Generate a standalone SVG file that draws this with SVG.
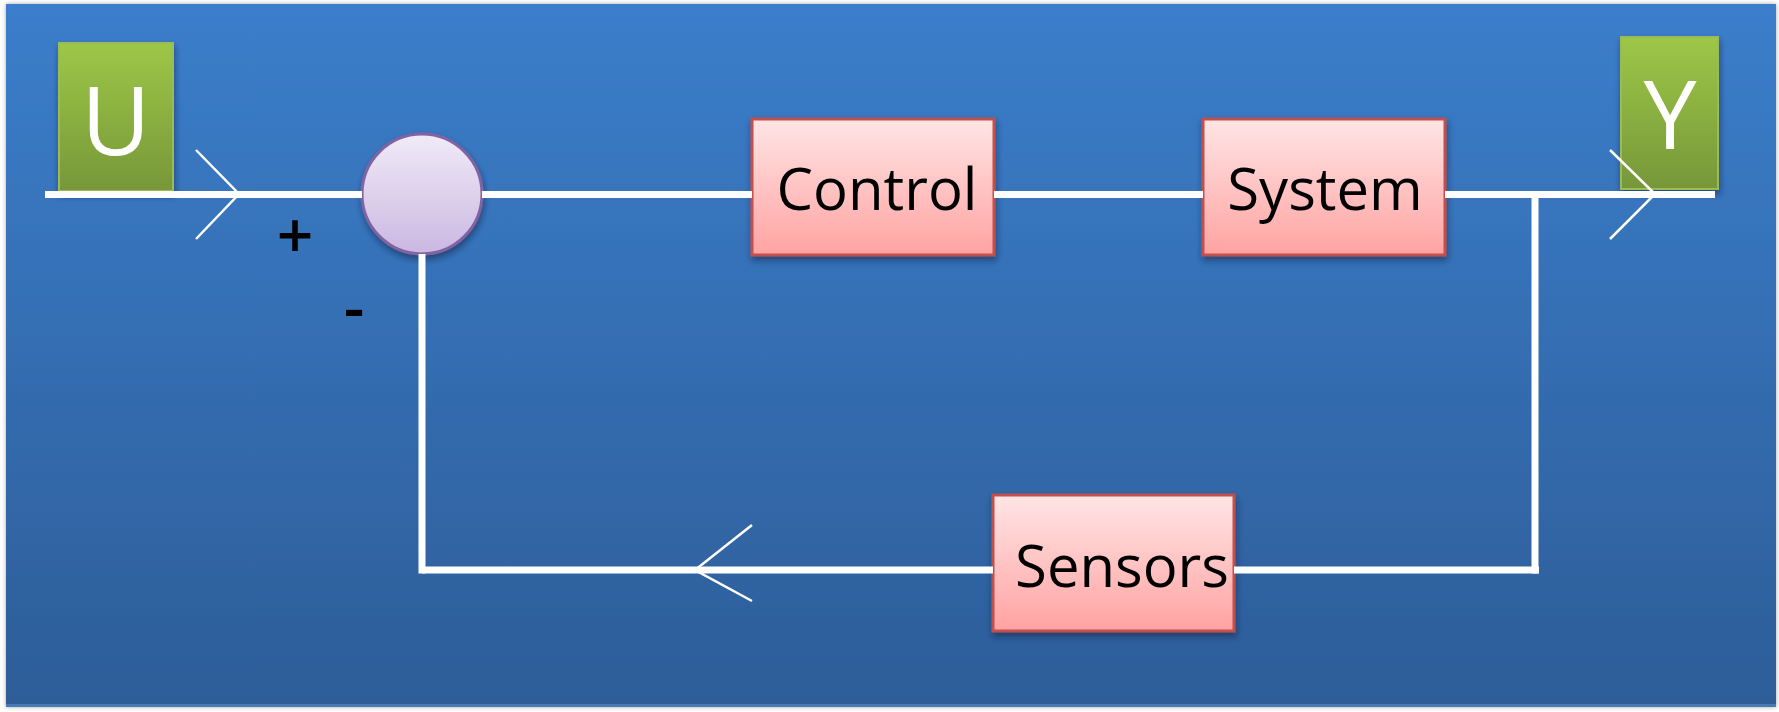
<svg xmlns="http://www.w3.org/2000/svg" width="1779" height="712" viewBox="0 0 1779 712">
  <defs>
    <linearGradient id="bg" x1="0" y1="0" x2="0" y2="1">
      <stop offset="0" stop-color="#3b7ecb"/>
      <stop offset="1" stop-color="#2d5d98"/>
    </linearGradient>
    <linearGradient id="pink" x1="0" y1="0" x2="0" y2="1">
      <stop offset="0" stop-color="#ffe5e5"/>
      <stop offset="1" stop-color="#ffa3a2"/>
    </linearGradient>
    <linearGradient id="green" x1="0" y1="0" x2="0" y2="1">
      <stop offset="0" stop-color="#9dc747"/>
      <stop offset="1" stop-color="#779739"/>
    </linearGradient>
    <linearGradient id="lav" x1="0" y1="0" x2="0" y2="1">
      <stop offset="0" stop-color="#f0ebf7"/>
      <stop offset="1" stop-color="#cbb7e2"/>
    </linearGradient>
    <filter id="sh" x="-20%" y="-20%" width="140%" height="150%">
      <feDropShadow dx="1" dy="4" stdDeviation="3" flood-color="#0a1e3c" flood-opacity="0.55"/>
    </filter>
    <filter id="pg" x="-2%" y="-2%" width="104%" height="104%">
      <feDropShadow dx="0" dy="0" stdDeviation="2" flood-color="#000" flood-opacity="0.35"/>
    </filter>
  </defs>
  <style>
    .blk { fill: url(#pink); stroke: #c0504d; stroke-width: 3; filter: url(#sh); }
    .io { fill: url(#green); stroke: #9bbb59; stroke-width: 2; filter: url(#sh); }
    .lbl { font-family: "Open Sans", "Noto Sans", sans-serif; font-size: 58px; fill: #000; text-anchor: middle; }
    .iol { font-family: "Open Sans", "Noto Sans", sans-serif; font-size: 95px; fill: #fff; text-anchor: middle; }
    .sgn { font-family: "Open Sans", "Noto Sans", sans-serif; font-size: 64px; font-weight: 600; fill: #000; text-anchor: middle; }
    .wire { stroke: #fff; stroke-width: 7; fill: none; }
    .arw { stroke: #fff; stroke-width: 2.5; fill: none; }
  </style>
  <rect x="0" y="0" width="1779" height="712" fill="#fff"/>
  <rect id="page" x="6" y="4" width="1770" height="703" fill="url(#bg)" filter="url(#pg)"/>
  <rect x="6" y="704" width="1770" height="3" fill="#5b8ccc" opacity="0.6"/>

  <g id="node-U">
    <rect class="io" x="59" y="43" width="114" height="148"/>
    <text class="iol" x="116" y="155">U</text>
  </g>
  <g id="node-Y">
    <rect class="io" x="1621" y="37" width="97" height="152"/>
    <text class="iol" x="1670" y="149">Y</text>
  </g>
  <g id="node-sum">
    <circle cx="422" cy="194" r="60" fill="url(#lav)" stroke="#8064a2" stroke-width="3" filter="url(#sh)"/>
  </g>
  <g id="node-control">
    <rect class="blk" x="752" y="119" width="242" height="136"/>
    <text class="lbl" x="877" y="210">Control</text>
  </g>
  <g id="node-system">
    <rect class="blk" x="1203" y="119" width="242" height="136"/>
    <text class="lbl" x="1325" y="210">System</text>
  </g>
  <g id="node-sensors">
    <rect class="blk" x="993" y="495" width="241" height="136"/>
    <text class="lbl" x="1122" y="587">Sensors</text>
  </g>

  <g id="connectors">
    <line class="wire" x1="45" y1="194.5" x2="362" y2="194.5"/>
    <line class="wire" x1="482" y1="194.5" x2="752" y2="194.5"/>
    <line class="wire" x1="994" y1="194.5" x2="1203" y2="194.5"/>
    <line class="wire" x1="1445" y1="194.5" x2="1715" y2="194.5"/>
    <line class="wire" x1="1535" y1="191" x2="1535" y2="573.5" stroke-width="8"/>
    <line class="wire" x1="1234" y1="570" x2="1539" y2="570"/>
    <line class="wire" x1="422" y1="570" x2="993" y2="570"/>
    <line class="wire" x1="422" y1="254" x2="422" y2="573.5" stroke-width="8"/>
    <polyline class="arw" points="196,150 239,194 196,239"/>
    <polyline class="arw" points="1610,150 1655,194 1610,239"/>
    <polyline class="arw" points="752,525 695,570 752,601"/>
  </g>

  <g id="labels">
    <text class="sgn" x="295" y="258">+</text>
    <text class="sgn" x="354" y="330">-</text>
  </g>
</svg>
